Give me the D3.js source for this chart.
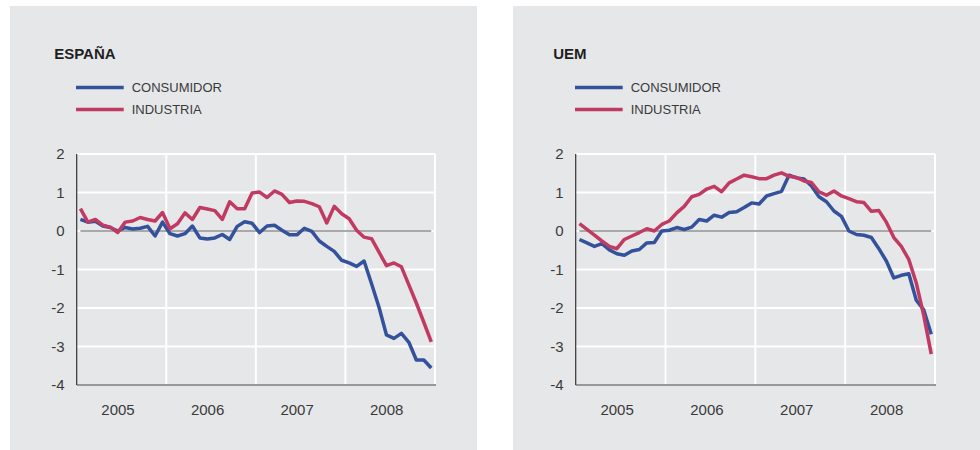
<!DOCTYPE html>
<html><head><meta charset="utf-8">
<script src="https://cdn.jsdelivr.net/npm/d3@7"></script>
<style>
html,body{margin:0;padding:0;background:#fff;}
svg text{font-family:"Liberation Sans",Arial,Helvetica,sans-serif;}
</style></head>
<body><svg id="c" width="980" height="450"></svg>
<script>
const years = [2005, 2006, 2007, 2008];
const yTicks = [2, 1, 0, -1, -2, -3, -4];
const seriesNames = ["CONSUMIDOR", "INDUSTRIA"];
const panelTitles = ["ESPAÑA", "UEM"];

// Monthly values Jan 2005 - Dec 2008
const espConsumidor = [0.30,0.23,0.25,0.13,0.09,0.00,0.09,0.05,0.07,0.12,-0.13,0.23,
  -0.07,-0.13,-0.07,0.13,-0.18,-0.21,-0.18,-0.09,-0.22,0.12,0.24,0.20,
  -0.04,0.13,0.15,0.02,-0.10,-0.10,0.07,-0.01,-0.26,-0.40,-0.53,-0.76,
  -0.83,-0.92,-0.78,-1.37,-1.98,-2.70,-2.79,-2.66,-2.89,-3.35,-3.35,-3.56];
const espIndustria = [0.58,0.23,0.30,0.15,0.10,-0.04,0.23,0.26,0.35,0.30,0.26,0.48,
  0.06,0.19,0.47,0.30,0.61,0.57,0.53,0.30,0.76,0.58,0.58,0.99,
  1.01,0.87,1.04,0.95,0.74,0.78,0.77,0.71,0.63,0.21,0.64,0.45,
  0.32,0.02,-0.16,-0.20,-0.55,-0.90,-0.83,-0.93,-1.40,-1.87,-2.37,-2.88];
const uemConsumidor = [-0.22,-0.31,-0.40,-0.33,-0.49,-0.59,-0.63,-0.52,-0.48,-0.31,-0.30,0.00,
  0.02,0.09,0.04,0.10,0.30,0.26,0.41,0.36,0.48,0.50,0.61,0.73,
  0.70,0.91,0.97,1.03,1.45,1.38,1.35,1.17,0.89,0.76,0.52,0.38,
  0.00,-0.09,-0.11,-0.17,-0.46,-0.78,-1.22,-1.15,-1.11,-1.80,-2.05,-2.68];
const uemIndustria = [0.19,0.04,-0.11,-0.26,-0.40,-0.46,-0.22,-0.13,-0.04,0.06,0.00,0.17,
  0.26,0.47,0.64,0.89,0.95,1.09,1.16,1.02,1.25,1.35,1.45,1.41,
  1.36,1.36,1.45,1.51,1.42,1.39,1.30,1.26,1.02,0.93,1.04,0.91,
  0.84,0.76,0.74,0.51,0.53,0.23,-0.17,-0.40,-0.74,-1.35,-2.20,-3.20];

const colors = ["#34519c", "#c13a62"];

const months = [];
years.forEach(y => { for (let m = 0; m < 12; m++) months.push(y + (m + 0.5) / 12); });

const svg = d3.select("#c");

const panels = [
  {title: panelTitles[0], data: [espConsumidor, espIndustria], bg: [10, 6, 467, 444], x0: 76.7, x1: 435},
  {title: panelTitles[1], data: [uemConsumidor, uemIndustria], bg: [513, 6, 467, 444], x0: 575.7, x1: 935}
];

const yTop = 154, yBot = 385;

panels.forEach(p => {
  const g = svg.append("g");
  g.append("rect").attr("x", p.bg[0]).attr("y", p.bg[1]).attr("width", p.bg[2]).attr("height", p.bg[3])
    .attr("fill", "#e6e7e9");

  const x = d3.scaleLinear().domain([years[0], years[years.length - 1] + 1]).range([p.x0, p.x1]);
  const y = d3.scaleLinear().domain([-4, 2]).range([yBot, yTop]);

  // title
  g.append("text").attr("x", p.x0 - 22.5).attr("y", 59).text(p.title)
    .attr("font-size", 15).attr("font-weight", "bold").attr("fill", "#1f1f1f");

  // legend
  seriesNames.forEach((n, i) => {
    const ly = 87.5 + i * 22;
    g.append("line").attr("x1", p.x0 - 0.7).attr("x2", p.x0 + 47).attr("y1", ly).attr("y2", ly)
      .attr("stroke", colors[i]).attr("stroke-width", 3.5);
    g.append("text").attr("x", p.x0 + 55).attr("y", ly + 4.6).text(n)
      .attr("font-size", 13).attr("fill", "#3a3a3a");
  });

  // horizontal grid
  g.selectAll(".hg").data(yTicks).enter().append("line")
    .attr("x1", p.x0).attr("x2", p.x1)
    .attr("y1", d => y(d)).attr("y2", d => y(d))
    .attr("stroke", "#fff").attr("stroke-width", 2);
  // vertical grid (year boundaries + right edge)
  const vb = years.slice(1).concat([years[years.length - 1] + 1]);
  g.selectAll(".vg").data(vb).enter().append("line")
    .attr("x1", d => x(d)).attr("x2", d => x(d))
    .attr("y1", yTop).attr("y2", yBot)
    .attr("stroke", "#fff").attr("stroke-width", 2);

  // zero line
  g.append("line").attr("x1", x(months[0])).attr("x2", x(months[months.length - 1]))
    .attr("y1", y(0)).attr("y2", y(0)).attr("stroke", "#555").attr("stroke-width", 1.2);

  // axes lines
  g.append("line").attr("x1", p.x0).attr("x2", p.x0).attr("y1", yTop).attr("y2", yBot)
    .attr("stroke", "#333").attr("stroke-width", 1.2);
  g.append("line").attr("x1", p.x0).attr("x2", p.x1 + 1).attr("y1", yBot).attr("y2", yBot)
    .attr("stroke", "#333").attr("stroke-width", 1.2);

  // y tick labels
  g.selectAll(".yl").data(yTicks).enter().append("text")
    .attr("x", p.x0 - 12).attr("y", d => y(d) + 5.3)
    .attr("text-anchor", "end").attr("font-size", 15).attr("fill", "#3a3a3a")
    .text(d => d);

  // year labels
  g.selectAll(".xl").data(years).enter().append("text")
    .attr("x", d => x(d + 0.5) - 3.5).attr("y", 415)
    .attr("text-anchor", "middle").attr("font-size", 15).attr("fill", "#3a3a3a")
    .text(d => d);

  // lines
  const line = d3.line().x((d, i) => x(months[i])).y(d => y(d));
  p.data.forEach((s, i) => {
    g.append("path").datum(s).attr("d", line).attr("fill", "none")
      .attr("stroke", colors[i]).attr("stroke-width", 3.5).attr("stroke-linejoin", "round");
  });
});
</script></body></html>
